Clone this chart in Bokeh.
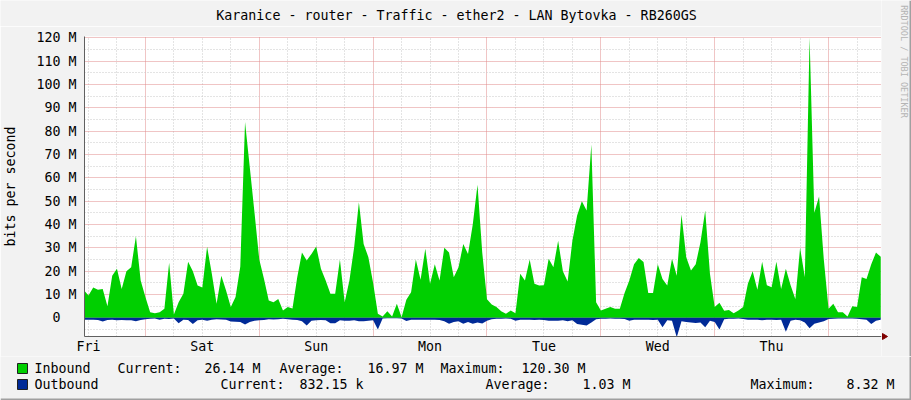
import math
from bokeh.plotting import figure
from bokeh.layouts import column, row
from bokeh.models import Range1d, FixedTicker, ColumnDataSource
from bokeh.embed import file_html
from bokeh.resources import INLINE
from bokeh.core.properties import value

# ---------------- data (hours from Friday 00:00, values in Mbit/s) -------------
hours = list(range(-1, 168))
inbound = [
    12, 9.6, 13, 12, 12.4, 5, 18, 21, 12.4, 20, 21.7, 35, 16, 8.9, 2.4, 2, 2.4, 3.9,
    23.6, 1.4, 6.7, 10.3, 24, 20, 13.9, 13, 30.5, 18.9, 6, 18, 11.7, 4.6, 8.9, 22,
    84, 64.6, 45, 25, 16.7, 7.4, 6.7, 8.1, 3.1, 4.6, 4, 17.4, 28, 24.6, 27.4, 30.6,
    21, 16, 10.3, 10.3, 25, 6.7, 16, 30.3, 49.6, 31.7, 26, 14.9, 1.7, 0.6, 2.8, 0.6,
    6, 0.3, 7.7, 11, 25, 16.3, 29.6, 14.6, 23, 16, 30, 28, 17.4, 21.7, 31.7, 27.4,
    40, 57, 28, 8, 5.7, 4.6, 2.8, 1.7, 3.1, 2, 18.9, 16, 25, 14.6, 13.9, 14, 25.3,
    21.7, 33, 20, 15.6, 33, 43.9, 50, 46, 74.3, 6.7, 3.1, 3.9, 4.6, 3.9, 3.9, 10.6,
    16, 23, 25.7, 23.9, 10.6, 10.6, 23, 16.7, 13.9, 25.3, 18, 44.3, 26, 20.3, 23,
    32.4, 46, 18.9, 4.6, 6.5, 3, 3.4, 2, 3.1, 4.6, 14.6, 20, 12, 24, 14, 13.1, 24,
    12.4, 21, 14, 8.1, 30, 17.4, 120.3, 45, 52, 25, 3.9, 6, 2.4, 2.4, 0.6, 5, 4.6,
    17.4, 16.7, 23, 28, 26.14,
]
outbound = [
    0.8, 0.8, 0.8, 0.9, 1.6, 0.9, 0.8, 1.0, 0.9, 1.0, 1.0, 1.5, 0.9, 0.6, 0.4, 0.3,
    0.8, 0.4, 0.5, 0.3, 2.3, 0.8, 0.9, 2.6, 1.0, 0.8, 1.2, 0.8, 0.6, 0.7, 0.8, 1.6,
    1.7, 1.8, 2.9, 1.8, 1.2, 1.0, 0.9, 0.6, 0.7, 0.6, 0.4, 0.6, 0.8, 0.9, 1.5, 3.3,
    1.2, 1.0, 0.9, 1.0, 2.3, 2.3, 1.0, 1.2, 1.2, 1.0, 1.5, 1.5, 1.2, 1.0, 5.0, 0.3,
    0.2, 0.2, 0.2, 0.3, 1.4, 0.8, 0.8, 0.8, 0.8, 0.8, 0.8, 0.9, 1.5, 2.5, 1.8, 1.5,
    2.5, 1.8, 2.5, 2.0, 2.4, 1.2, 0.6, 0.4, 0.4, 0.3, 0.4, 1.2, 0.8, 0.8, 0.8, 0.9,
    0.8, 0.9, 1.2, 1.2, 1.2, 1.0, 1.5, 1.0, 2.6, 3.0, 3.3, 2.0, 0.6, 0.4, 0.4, 0.3,
    0.4, 0.4, 0.5, 1.2, 0.8, 0.8, 0.8, 0.8, 0.9, 0.8, 4.0, 1.0, 1.2, 8.32, 1.5, 1.8,
    2.0, 2.2, 2.0, 4.0, 1.2, 1.8, 5.0, 0.6, 0.4, 0.4, 0.3, 0.5, 0.8, 0.8, 0.8, 1.0,
    0.8, 0.8, 0.9, 0.8, 6.0, 1.2, 0.8, 1.0, 2.0, 4.5, 2.5, 2.0, 1.5, 0.5, 0.4, 0.3,
    0.3, 0.3, 0.3, 0.4, 0.6, 0.8, 2.6, 1.2, 0.83,
]
day_ticks = [0, 24, 48, 72, 96, 120, 144]
day_labels = ["Fri", "Sat", "Sun", "Mon", "Tue", "Wed", "Thu"]
y_ticks = list(range(0, 121, 10))
y_labels = ["0\u00a0\u00a0"] + [f"{v} M" for v in range(10, 121, 10)]
title_text = "Karanice - router - Traffic - ether2 - LAN Bytovka - RB260GS"
credit_text = "RRDTOOL / TOBI OETIKER"
legend_names = ["Inbound", "Outbound"]
inbound_stats = ["Current:", "26.14 M", "Average:", "16.97 M", "Maximum:", "120.30 M"]
outbound_stats = ["Current:", "832.15 k", "Average:", "1.03 M", "Maximum:", "8.32 M"]

# ---------------- layout / style -------------------------------------------------
X0, X1 = -0.84, 167.16
Y0, Y1 = -8.0, 120.6
IN_COL, OUT_COL = "#00CF00", "#002A97"
BG = "#F2F2F2"
EDGE = "#A0A0A0"
AXIS = "#606060"
ARROW = "#7F0000"
FONT = "DejaVu Sans Mono"
FS = "13.3px"
W = 911          # whole image
PW = 881         # chart block (up to the right end of the plot area)
RW = W - PW      # right margin strip
HH = 26          # title strip height
PH = 330         # chart block height
LH = 44          # legend strip height


def strip(width, height):
    f = figure(width=width, height=height, x_range=Range1d(0, width),
               y_range=Range1d(height, 0), output_backend="svg", toolbar_location=None,
               x_axis_type=None, y_axis_type=None, min_border=0, min_border_left=0,
               min_border_right=0, min_border_top=0, min_border_bottom=0,
               background_fill_color=BG, border_fill_color=BG, outline_line_color=None)
    f.frame_align = False
    f.grid.visible = False
    return f


# ---------------- title strip -----------------------------------------------------
head = strip(PW, HH)
head.text(x=[456], y=[15], text=[title_text], text_font=value(FONT),
          text_font_size=value(FS), text_align="center", text_baseline="middle",
          text_color="#000000")

# ---------------- main chart ------------------------------------------------------
p = figure(width=PW, height=PH, x_range=Range1d(X0, X1), y_range=Range1d(Y0, Y1),
           output_backend="svg", toolbar_location=None, title=None,
           min_border_left=81, min_border_right=0, min_border_top=10, min_border_bottom=20,
           background_fill_color="white", border_fill_color=BG,
           outline_line_color=None)
p.frame_align = False

src = ColumnDataSource(dict(t=hours, inb=inbound, outb=[-v for v in outbound]))
p.varea(x="t", y1=0, y2="inb", source=src, fill_color=IN_COL)
p.varea(x="t", y1=0, y2="outb", source=src, fill_color=OUT_COL)

# grids
p.xgrid.ticker = FixedTicker(ticks=[12 + 24 * k for k in range(7)],
                             minor_ticks=[6 * k for k in range(28) if (6 * k - 12) % 24 != 0])
p.ygrid.ticker = FixedTicker(ticks=y_ticks, minor_ticks=[-5 + 10 * k for k in range(13)])
for g in (p.xgrid, p.ygrid):
    g.grid_line_color = "#E08A8A"
    g.grid_line_dash = "1 1"
    g.grid_line_width = 1
    g.minor_grid_line_color = "#C8C8C8"
    g.minor_grid_line_dash = "1 2"
    g.minor_grid_line_width = 1

# axes
p.yaxis.ticker = FixedTicker(ticks=y_ticks, minor_ticks=[])
p.yaxis.major_label_overrides = {t: l for t, l in zip(y_ticks, y_labels)}
p.xaxis.ticker = FixedTicker(ticks=day_ticks, minor_ticks=[])
p.xaxis.major_label_overrides = {t: l for t, l in zip(day_ticks, day_labels)}
for ax in (p.xaxis, p.yaxis):
    ax.axis_line_color = AXIS
    ax.axis_line_width = 1
    ax.major_tick_out = 0
    ax.major_tick_in = 0
    ax.minor_tick_out = 0
    ax.minor_tick_in = 0
    ax.major_label_text_font = FONT
    ax.major_label_text_font_size = FS
    ax.major_label_text_color = "#000000"
p.yaxis.major_label_standoff = 8
p.xaxis.major_label_standoff = 2
p.yaxis.axis_label = "bits per second"
p.yaxis.axis_label_text_font = FONT
p.yaxis.axis_label_text_font_size = FS
p.yaxis.axis_label_text_font_style = "normal"
p.yaxis.axis_label_text_color = "#000000"
p.yaxis.axis_label_standoff = 15

# ---------------- right margin strip (credit text, x-axis arrow, frame edge) ------
right = strip(RW, HH + PH)
right.text(x=[22.5], y=[61], text=[credit_text], angle=-math.pi / 2,
           text_font=value(FONT), text_font_size=value("8.5px"), text_align="center",
           text_baseline="middle", text_color="#B4B4B4")
right.segment(x0=[0], y0=[336], x1=[2], y1=[336], line_color=AXIS, line_width=1)
right.patch(x=[1, 6, 1], y=[333, 336, 339], fill_color=ARROW, line_color=ARROW)
right.quad(left=[RW - 2], right=[RW], top=[0], bottom=[HH + PH], fill_color=EDGE,
           line_color=None)

# ---------------- legend strip below the chart -----------------------------------
leg = strip(W, LH)

row_y = [12, 28]
swatch_x = 22
name_x = 34
row1_x = [117, 204, 279, 367, 440, 521]
row2_x = [220, 299, 485, 582, 750, 846]

leg.rect(x=[swatch_x, swatch_x], y=row_y, width=10, height=10,
         fill_color=[IN_COL, OUT_COL], line_color="#202020", line_width=1)

txt, tx, ty = [], [], []
for name, stats, xs, yy in ((legend_names[0], inbound_stats, row1_x, row_y[0]),
                            (legend_names[1], outbound_stats, row2_x, row_y[1])):
    txt.append(name); tx.append(name_x); ty.append(yy)
    for s, xx in zip(stats, xs):
        txt.append(s); tx.append(xx); ty.append(yy)
leg.text(x=tx, y=ty, text=txt, text_font=value(FONT), text_font_size=value(FS),
         text_align="left", text_baseline="middle", text_color="#000000")

leg.quad(left=[0], right=[W], top=[LH - 2], bottom=[LH], fill_color=EDGE, line_color=None)
leg.quad(left=[W - 2], right=[W], top=[0], bottom=[LH], fill_color=EDGE, line_color=None)

layout = column(row(column(head, p, spacing=0), right, spacing=0), leg, spacing=0)
open("out.html", "w").write(file_html(layout, INLINE))
